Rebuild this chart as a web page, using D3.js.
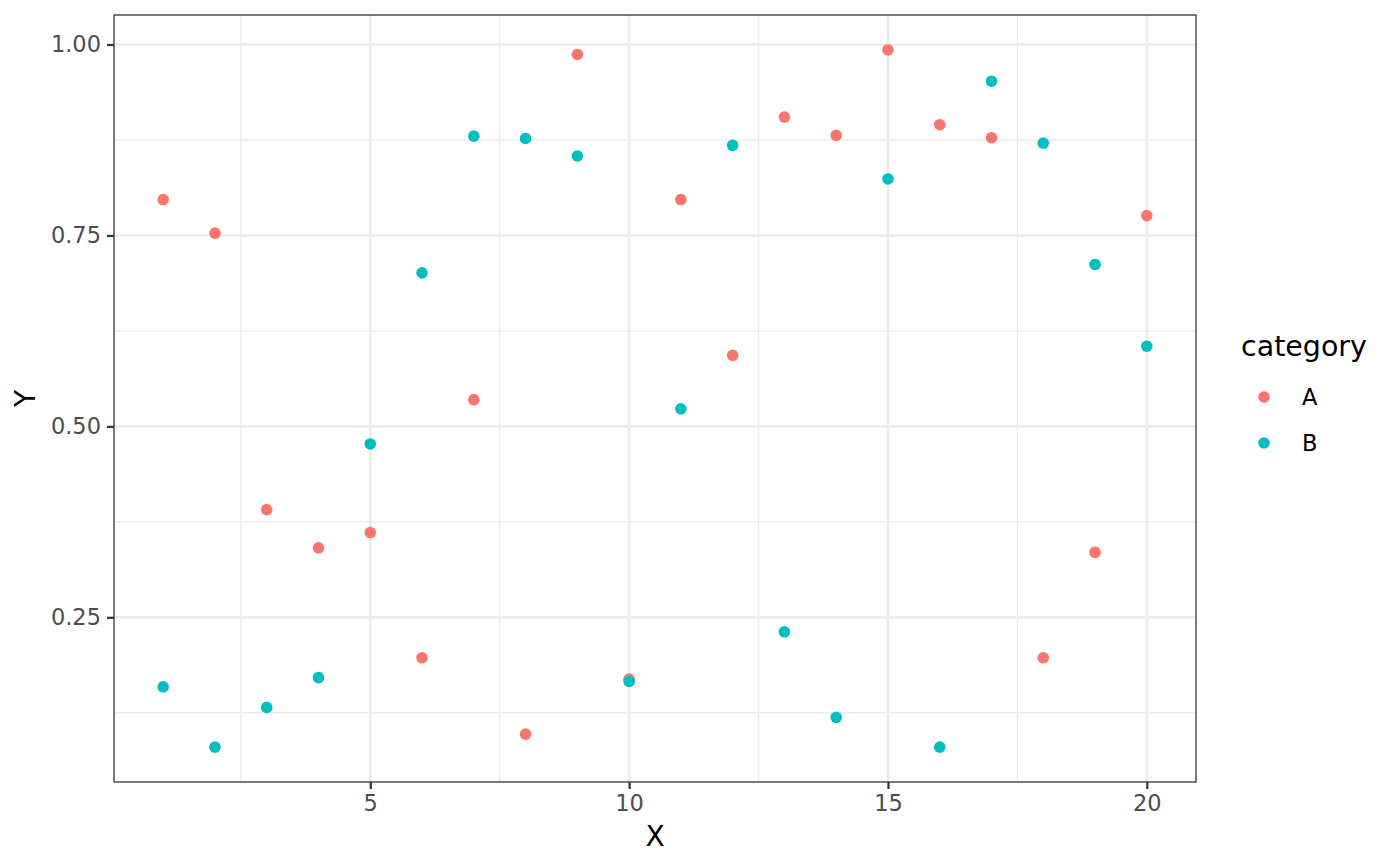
<!DOCTYPE html>
<html>
<head>
<meta charset="utf-8">
<script src="https://cdn.jsdelivr.net/npm/d3@7"></script>
<style>
  body { margin: 0; background: #fff; }
  text { font-family: "DejaVu Sans", sans-serif; }
</style>
</head>
<body>
<svg id="chart" width="1400" height="866"></svg>
<script>
// values
var xs = [1, 2, 3, 4, 5, 6, 7, 8, 9, 10, 11, 12, 13, 14, 15, 16, 17, 18, 19, 20];
var valuesA = [0.797, 0.753, 0.391, 0.341, 0.361, 0.197, 0.535, 0.097, 0.987, 0.169,
               0.797, 0.593, 0.905, 0.881, 0.993, 0.895, 0.878, 0.197, 0.335, 0.776];
var valuesB = [0.159, 0.080, 0.132, 0.171, 0.477, 0.701, 0.880, 0.877, 0.854, 0.166,
               0.523, 0.868, 0.231, 0.119, 0.824, 0.080, 0.952, 0.871, 0.712, 0.605];
var categories = ["A", "B"];
var xTicks = [5, 10, 15, 20];
var xMinor = [2.5, 7.5, 12.5, 17.5];
var yTicks = [0.25, 0.50, 0.75, 1.00];
var yMinor = [0.125, 0.375, 0.625, 0.875];

var colors = { A: "#F8766D", B: "#00BFC4" };

var svg = d3.select("#chart");
var width = 1400;
var height = 866;

var panel_left   = 114;
var panel_right  = 1196;
var panel_top    = 15;
var panel_bottom = 782;

var points = [];
categories.forEach(function(cat) {
  var vals = cat === "A" ? valuesA : valuesB;
  xs.forEach(function(x, i) { points.push({ x: x, y: vals[i], cat: cat }); });
});

function expand(ext) {
  var pad = (ext[1] - ext[0]) * 0.05;
  return [ext[0] - pad, ext[1] + pad];
}

var x = d3.scaleLinear()
  .domain(expand(d3.extent(xs)))
  .range([panel_left, panel_right]);

var y = d3.scaleLinear()
  .domain(expand(d3.extent(points, function(d) { return d.y; })))
  .range([panel_bottom, panel_top]);

// panel background
svg.append("rect")
  .attr("x", panel_left).attr("y", panel_top)
  .attr("width", panel_right - panel_left)
  .attr("height", panel_bottom - panel_top)
  .attr("fill", "white");

var grid = svg.append("g");

// minor grid
grid.selectAll(".ymin").data(yMinor).enter().append("line")
  .attr("x1", panel_left).attr("x2", panel_right)
  .attr("y1", function(d) { return y(d); })
  .attr("y2", function(d) { return y(d); })
  .attr("stroke", "#ebebeb").attr("stroke-width", 1.3);

grid.selectAll(".xmin").data(xMinor).enter().append("line")
  .attr("y1", panel_top).attr("y2", panel_bottom)
  .attr("x1", function(d) { return x(d); })
  .attr("x2", function(d) { return x(d); })
  .attr("stroke", "#ebebeb").attr("stroke-width", 1.3);

// major grid
grid.selectAll(".ymaj").data(yTicks).enter().append("line")
  .attr("x1", panel_left).attr("x2", panel_right)
  .attr("y1", function(d) { return y(d); })
  .attr("y2", function(d) { return y(d); })
  .attr("stroke", "#ebebeb").attr("stroke-width", 2.6);

grid.selectAll(".xmaj").data(xTicks).enter().append("line")
  .attr("y1", panel_top).attr("y2", panel_bottom)
  .attr("x1", function(d) { return x(d); })
  .attr("x2", function(d) { return x(d); })
  .attr("stroke", "#ebebeb").attr("stroke-width", 2.6);

// points
svg.append("g").selectAll("circle").data(points).enter().append("circle")
  .attr("cx", function(d) { return x(d.x); })
  .attr("cy", function(d) { return y(d.y); })
  .attr("r", 5.8)
  .attr("fill", function(d) { return colors[d.cat]; });

// panel border
svg.append("rect")
  .attr("x", panel_left).attr("y", panel_top)
  .attr("width", panel_right - panel_left)
  .attr("height", panel_bottom - panel_top)
  .attr("fill", "none")
  .attr("stroke", "#333333")
  .attr("stroke-width", 1.3);

// axes
var xAxis = svg.append("g")
  .attr("transform", "translate(0," + panel_bottom + ")")
  .call(d3.axisBottom(x).tickValues(xTicks).tickSize(7).tickPadding(6)
    .tickFormat(d3.format("d")));

var yAxis = svg.append("g")
  .attr("transform", "translate(" + panel_left + ",0)")
  .call(d3.axisLeft(y).tickValues(yTicks).tickSize(7).tickPadding(6)
    .tickFormat(d3.format(".2f")));

[xAxis, yAxis].forEach(function(ax) {
  ax.select(".domain").remove();
  ax.selectAll(".tick line").attr("stroke", "#333333").attr("stroke-width", 2.2);
  ax.selectAll(".tick text")
    .attr("fill", "#4d4d4d")
    .style("font-size", "22.5px")
    .style("font-family", "DejaVu Sans");
});

// axis titles
svg.append("text")
  .attr("x", (panel_left + panel_right) / 2)
  .attr("y", 846)
  .attr("text-anchor", "middle")
  .style("font-size", "28px")
  .text("X");

svg.append("text")
  .attr("transform", "translate(35," + ((panel_top + panel_bottom) / 2) + ") rotate(-90)")
  .attr("text-anchor", "middle")
  .style("font-size", "28px")
  .text("Y");

// legend
var legend = svg.append("g");

legend.append("text")
  .attr("x", 1241)
  .attr("y", 356)
  .style("font-size", "28.5px")
  .text("category");

var keys = legend.selectAll(".key").data(categories).enter().append("g")
  .attr("transform", function(d, i) { return "translate(0," + (397 + i * 46) + ")"; });

keys.append("circle")
  .attr("cx", 1264).attr("cy", 0).attr("r", 5.8)
  .attr("fill", function(d) { return colors[d]; });

keys.append("text")
  .attr("x", 1302).attr("y", 8)
  .style("font-size", "22.5px")
  .text(function(d) { return d; });
</script>
</body>
</html>
